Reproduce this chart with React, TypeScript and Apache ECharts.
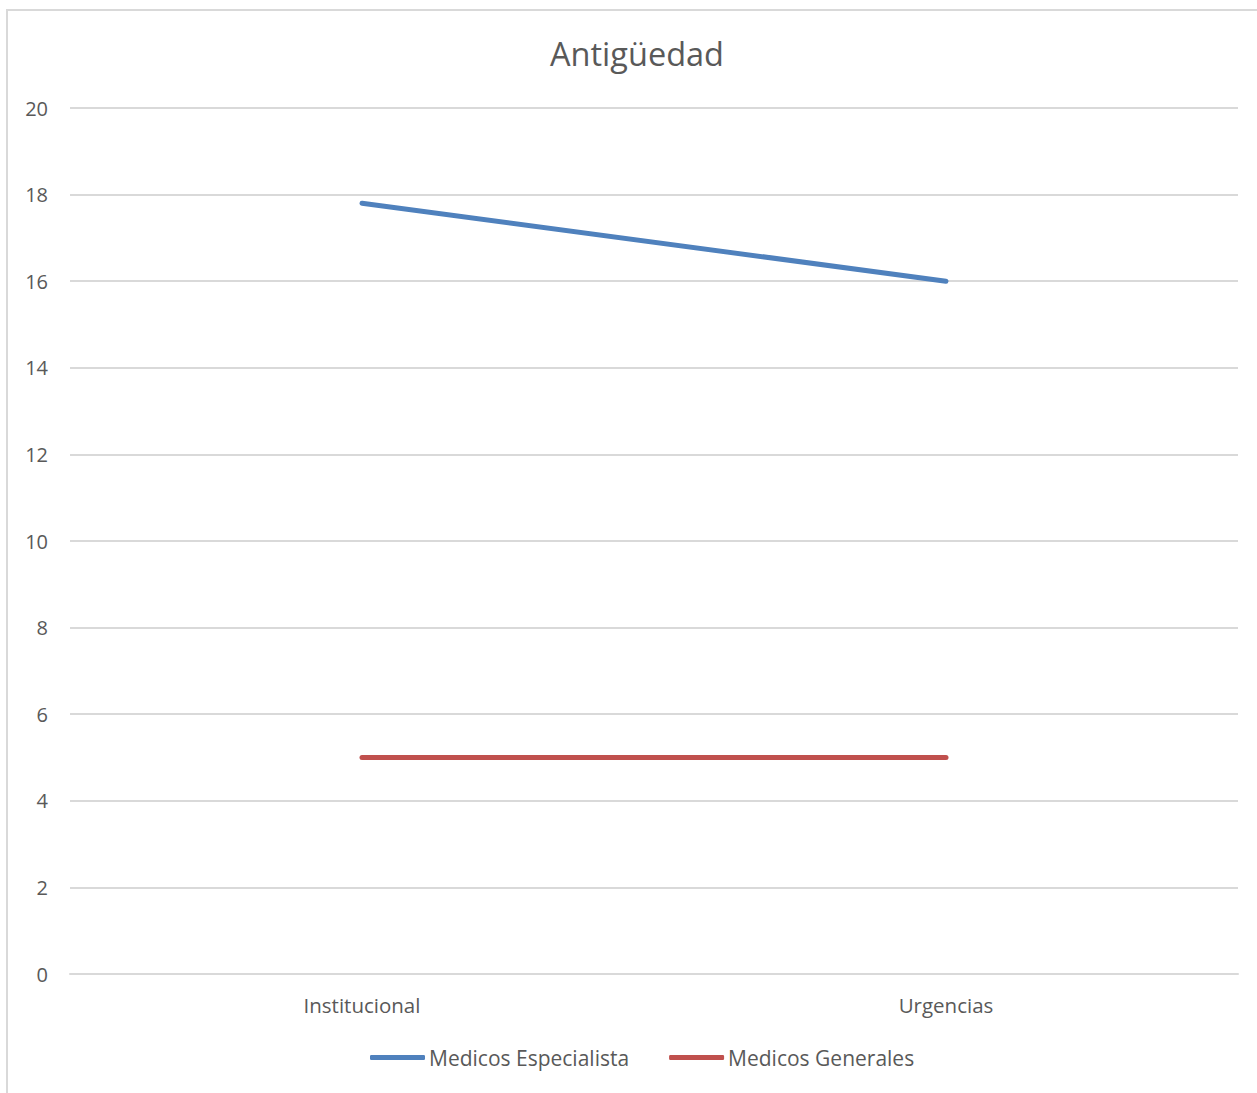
import React, { useEffect, useRef } from "react";
import * as echarts from "echarts";

const categories = ["Institucional", "Urgencias"];
const especialistaValues = [17.8, 16];
const generalesValues = [5, 5];
const seriesNames = ["Medicos Especialista", "Medicos Generales"];
const titleText = "Antigüedad";

const FONT = "'Open Sans', 'Liberation Sans', sans-serif";
const TEXT = "#595959";

export default function App() {
  const ref = useRef<HTMLDivElement>(null);

  useEffect(() => {
    const chart = echarts.init(ref.current!, null, { renderer: "svg" });
    chart.setOption({
      animation: false,
      backgroundColor: "#ffffff",
      textStyle: { fontFamily: FONT },
      graphic: [
        {
          type: "rect",
          shape: { x: 7, y: 10, width: 1260, height: 1100 },
          style: { fill: "none", stroke: "#d9d9d9", lineWidth: 2 },
          silent: true,
        },
        {
          type: "text",
          x: 637,
          y: 53,
          style: {
            text: titleText,
            fill: TEXT,
            font: `400 32.5px ${FONT}`,
            textAlign: "center",
            textVerticalAlign: "middle",
          },
        },
      ],
      grid: { left: 70, right: 19, top: 108, bottom: 119, containLabel: false },
      legend: {
        data: seriesNames,
        bottom: 20,
        left: 365,
        icon: "roundRect",
        itemWidth: 55,
        itemHeight: 5,
        itemGap: 40,
        textStyle: { color: TEXT, fontSize: 21, fontFamily: FONT, padding: [0, 0, 0, -1] },
      },
      xAxis: {
        type: "category",
        data: categories,
        boundaryGap: true,
        axisLine: { show: true, lineStyle: { color: "#d9d9d9", width: 2 } },
        axisTick: { show: false },
        axisLabel: { color: TEXT, fontSize: 20.5, margin: 20, fontFamily: FONT },
      },
      yAxis: {
        type: "value",
        min: 0,
        max: 20,
        interval: 2,
        axisLine: { show: false },
        axisTick: { show: false },
        axisLabel: { color: TEXT, fontSize: 20, margin: 22, fontFamily: FONT },
        splitLine: { lineStyle: { color: "#d9d9d9", width: 2 } },
      },
      series: [
        {
          name: seriesNames[0],
          type: "line",
          data: especialistaValues,
          showSymbol: false,
          symbol: "none",
          color: "#4f81bd",
          lineStyle: { width: 5, color: "#4f81bd", cap: "round" },
        },
        {
          name: seriesNames[1],
          type: "line",
          data: generalesValues,
          showSymbol: false,
          symbol: "none",
          color: "#c0504d",
          lineStyle: { width: 5, color: "#c0504d", cap: "round" },
        },
      ],
    });
    return () => chart.dispose();
  }, []);

  return (
    <div
      ref={ref}
      style={{ position: "fixed", left: 0, top: 0, width: 1257, height: 1093 }}
    />
  );
}
